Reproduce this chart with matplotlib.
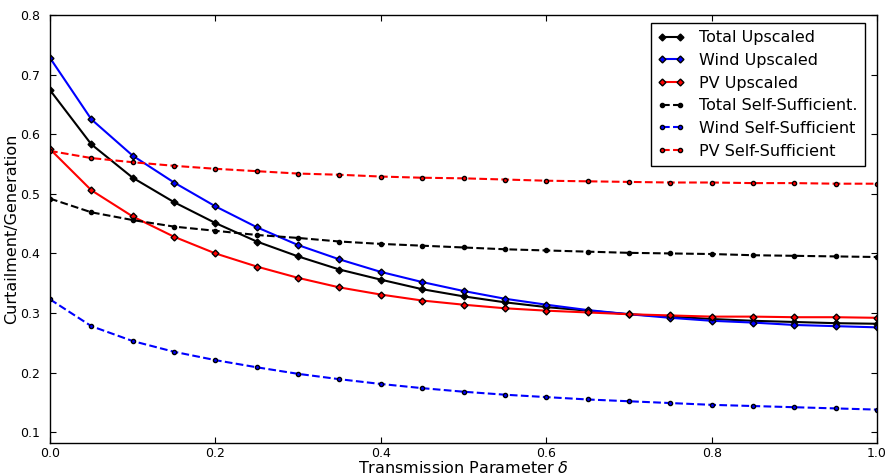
import matplotlib
matplotlib.use('Agg')
from matplotlib import pyplot as plt
import numpy as np

delta = [0.0, 0.05, 0.1, 0.15, 0.2, 0.25, 0.3, 0.35, 0.4, 0.45, 0.5,
         0.55, 0.6, 0.65, 0.7, 0.75, 0.8, 0.85, 0.9, 0.95, 1.0]

total_up = [0.674, 0.583, 0.527, 0.486, 0.451, 0.420, 0.395, 0.373, 0.356, 0.340, 0.328,
            0.318, 0.310, 0.304, 0.298, 0.294, 0.290, 0.287, 0.285, 0.283, 0.282]
wind_up = [0.728, 0.625, 0.564, 0.519, 0.479, 0.444, 0.414, 0.390, 0.369, 0.352, 0.337,
           0.324, 0.314, 0.305, 0.298, 0.292, 0.287, 0.284, 0.280, 0.278, 0.276]
pv_up = [0.575, 0.506, 0.462, 0.428, 0.400, 0.378, 0.359, 0.343, 0.331, 0.321, 0.314,
         0.308, 0.304, 0.301, 0.298, 0.296, 0.294, 0.294, 0.293, 0.293, 0.292]
total_ss = [0.492, 0.469, 0.456, 0.445, 0.438, 0.431, 0.426, 0.420, 0.416, 0.413, 0.410,
            0.407, 0.405, 0.403, 0.401, 0.400, 0.399, 0.397, 0.396, 0.395, 0.394]
wind_ss = [0.323, 0.278, 0.253, 0.235, 0.221, 0.209, 0.198, 0.189, 0.181, 0.174, 0.168,
           0.163, 0.159, 0.155, 0.152, 0.149, 0.146, 0.144, 0.142, 0.140, 0.138]
pv_ss = [0.572, 0.560, 0.553, 0.547, 0.542, 0.538, 0.534, 0.532, 0.529, 0.527, 0.526,
         0.524, 0.522, 0.521, 0.520, 0.519, 0.519, 0.518, 0.518, 0.517, 0.517]

fig = plt.figure(figsize=(8.85, 4.75), dpi=100)
ax = fig.add_axes([0.0565, 0.0674, 0.9345, 0.9010])

ax.plot(delta, total_up, 'k-', marker='D', ms=3.5, mfc='k', mec='k', lw=1.5, label='Total Upscaled')
ax.plot(delta, wind_up, 'b-', marker='D', ms=3.5, mfc='b', mec='k', lw=1.5, label='Wind Upscaled')
ax.plot(delta, pv_up, 'r-', marker='D', ms=3.5, mfc='r', mec='k', lw=1.5, label='PV Upscaled')
ax.plot(delta, total_ss, 'k--', marker='o', ms=3, mfc='k', mec='k', lw=1.5, label='Total Self-Sufficient.')
ax.plot(delta, wind_ss, 'b--', marker='o', ms=3, mfc='b', mec='k', lw=1.5, label='Wind Self-Sufficient')
ax.plot(delta, pv_ss, 'r--', marker='o', ms=3, mfc='r', mec='k', lw=1.5, label='PV Self-Sufficient')

ax.set_xlim(0, 1)
ax.set_ylim(0.082, 0.8)
ax.set_xticks(np.arange(0, 1.01, 0.2))
ax.set_yticks(np.arange(0.1, 0.81, 0.1))
ax.tick_params(direction='in', top=True, right=True, labelsize=9, length=4)
ax.tick_params(axis='x', pad=3)
ax.tick_params(axis='y', pad=7)
for s in ax.spines.values():
    s.set_linewidth(1.0)

ax.set_xlabel('Transmission Parameter $\\delta$', fontsize=11.5, labelpad=0)
ax.set_ylabel('Curtailment/Generation', fontsize=11.5, labelpad=1)

leg = ax.legend(loc='upper right', fontsize=11.5, numpoints=2, handlelength=1.7,
                handletextpad=0.9, fancybox=False, framealpha=1, borderpad=0.45,
                labelspacing=0.48, bbox_to_anchor=(0.995, 1.0))
leg.get_frame().set_edgecolor('k')

fig.savefig('out.png', dpi=100)
